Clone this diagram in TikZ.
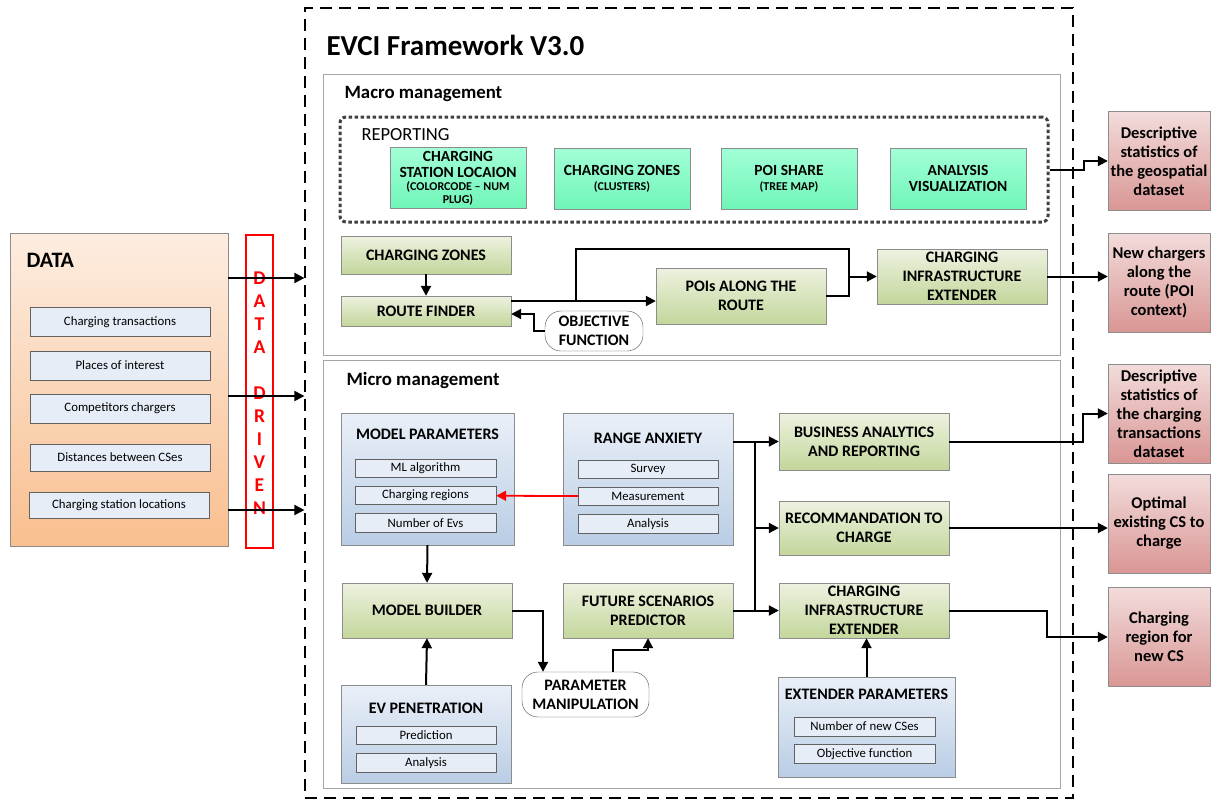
\documentclass[tikz,border=0pt]{standalone}
\usepackage{fontspec}
\setmainfont{Carlito}
\usetikzlibrary{arrows.meta,positioning}

\definecolor{olivetop}{HTML}{EDF2E0}
\definecolor{olivebot}{HTML}{C3D69B}
\definecolor{minttop}{HTML}{A2FFD6}
\definecolor{mintbot}{HTML}{70F5B8}
\definecolor{bluetop}{HTML}{EAF0F8}
\definecolor{bluebot}{HTML}{B9CDE5}
\definecolor{subfill}{HTML}{E6EDF7}
\definecolor{datatop}{HTML}{FDEDE1}
\definecolor{databot}{HTML}{F9BF8F}
\definecolor{outtop}{HTML}{F2DCDB}
\definecolor{outbot}{HTML}{D99694}
\definecolor{edgegray}{HTML}{8C8C8C}
\definecolor{panelgray}{HTML}{A6A6A6}
\definecolor{dotgray}{HTML}{404040}
\definecolor{ddred}{HTML}{FF0000}

\newcommand{\boxfont}{\bfseries\fontsize{16}{19}\selectfont}
\newcommand{\resfont}{\bfseries\fontsize{16.5}{19}\selectfont}
\newcommand{\repfont}{\bfseries\fontsize{15.5}{16}\selectfont}
\newcommand{\notefont}{\bfseries\fontsize{12}{11}\selectfont}
\newcommand{\itemfont}{\fontsize{12.8}{14}\selectfont}
\newcommand{\headfont}{\bfseries\fontsize{18.8}{22}\selectfont}

\begin{document}
\begin{tikzpicture}[x=1pt,y=-1pt,
  arr/.style={line width=2pt,-{Triangle[length=10pt,width=10pt]}},
  link/.style={line width=2pt},
  olive/.style={draw=edgegray,top color=olivetop,bottom color=olivebot,minimum width=170pt,align=center,font=\boxfont,inner sep=0pt},
  mint/.style={draw=edgegray,top color=minttop,bottom color=mintbot,minimum width=136pt,minimum height=61pt,align=center,font=\repfont,inner sep=0pt},
  bluebox/.style={draw=edgegray,top color=bluetop,bottom color=bluebot},
  item/.style={draw=edgegray!70!black,fill=subfill,minimum width=141pt,minimum height=18.5pt,inner sep=0pt,font=\itemfont},
  result/.style={draw=edgegray,top color=outtop,bottom color=outbot,minimum width=102pt,minimum height=99pt,align=center,font=\resfont,inner sep=0pt},
  pill/.style={draw=black!70,fill=white,rounded corners=16pt,align=center,font=\boxfont,inner sep=0pt},
  panel/.style={draw=panelgray,line width=1pt,minimum width=737pt}
]
\useasboundingbox (0,0) rectangle (1215,801);

% framework frame
\node[draw,line width=1.2pt,dash pattern=on 12pt off 7pt,minimum width=768pt,minimum height=790pt] (frame) at (689,403) {};
\node[anchor=west,font=\bfseries\fontsize{29}{32}\selectfont] (title) at (323,45) {EVCI Framework V3.0};

% macro management
\node[panel,minimum height=281pt] (macro) at (691.5,214.5) {};
\node[anchor=west,font=\headfont] (macrolbl) at (341,94) {Macro management};
\node[draw=dotgray,line width=3pt,dash pattern=on 3.5pt off 2.5pt,rounded corners=6pt,minimum width=708pt,minimum height=105pt] (rep) at (694,169.5) {};
\node[anchor=west,font=\fontsize{18.5}{20}\selectfont] (replbl) at (358,135) {REPORTING};
\node[mint] (csloc) at (458,178) {CHARGING\\STATION LOCAION\\[-2.5pt]\notefont (COLORCODE – NUM\\[-3.5pt]\notefont PLUG)};
\node[mint] (czrep) at (622,178.5) {CHARGING ZONES\\[-1pt]\notefont (CLUSTERS)};
\node[mint] (poish) at (789,178.5) {POI SHARE\\[-1pt]\notefont (TREE MAP)};
\node[mint] (anvis) at (958,178.5) {ANALYSIS\\VISUALIZATION};

\node[olive,minimum height=38pt] (czone) at (426,255) {CHARGING ZONES};
\node[olive,minimum height=30pt] (route) at (426,311) {ROUTE FINDER};
\node[pill,minimum width=98pt,minimum height=40pt] (objf) at (594,331) {OBJECTIVE\\FUNCTION};
\node[olive,minimum height=56pt] (poi) at (741,296) {POIs ALONG THE\\ROUTE};
\node[olive,minimum height=55pt] (cie1) at (962,276.5) {CHARGING\\INFRASTRUCTURE\\EXTENDER};

\coordinate (fork) at (576,301);
\coordinate (join) at (849,276.5);
\draw[arr] (czone) -- (route);
\draw[arr] ([yshift=10pt]route.east) -- ([yshift=10pt]route.east -| poi.west);
\draw[link] (fork) -- ++(0,-52) -| (join);
\draw[link] (poi.east) -| (join);
\draw[arr] (join) -- (cie1.west);
\draw[arr] (objf.west) -- ++(-11,0) |- ([yshift=-3pt]route.east);

% data
\node[draw=edgegray,top color=datatop,bottom color=databot,minimum width=218pt,minimum height=313pt] (data) at (119,389.5) {};
\node[anchor=west,font=\bfseries\fontsize{22}{24}\selectfont] (datalbl) at (23,260) {DATA};
\node[item,minimum width=180pt,minimum height=29pt] (trans) at (120,322) {Charging transactions};
\node[item,minimum width=180pt,minimum height=29pt] (places) at (120,365.5) {Places of interest};
\node[item,minimum width=180pt,minimum height=29pt] (compet) at (120,408.5) {Competitors chargers};
\node[item,minimum width=180pt,minimum height=27pt] (dist) at (120,457.5) {Distances between CSes};
\node[item,minimum width=180pt,minimum height=26pt] (csl) at (119,505) {Charging station locations};
\node[draw=ddred,line width=1.2pt,minimum width=27pt,minimum height=313pt] (ddbox) at (259.5,391.5) {};
\node[text=ddred,font=\bfseries\fontsize{19.5}{23}\selectfont,align=center,inner sep=0pt] (ddtxt) at (259.5,393) {D\\A\\T\\A\\[23pt]D\\R\\I\\V\\E\\N};
\foreach \s in {111.5,-6.5,-120.5}
  \draw[arr] ([yshift=\s pt]data.east) -- ([yshift=\s pt]data.east -| frame.west);

% micro management
\node[panel,minimum height=428pt] (micro) at (691.5,574) {};
\node[anchor=west,font=\headfont] (microlbl) at (343,380) {Micro management};

\node[bluebox,minimum width=173pt,minimum height=132pt] (mpar) at (427.5,479) {};
\node[font=\boxfont] (mpartl) at (427.5,434) {MODEL PARAMETERS};
\node[item] (mlalg) at (425.5,468) {ML algorithm};
\node[item,below=8.5pt of mlalg] (creg) {Charging regions};
\node[item,below=8.5pt of creg] (nevs) {Number of Evs};

\node[bluebox,minimum width=170pt,minimum height=132pt] (rax) at (648,479) {};
\node[font=\boxfont] (raxtl) at (648,438) {RANGE ANXIETY};
\node[item,minimum width=140pt] (survey) at (648,469) {Survey};
\node[item,minimum width=140pt,below=8.5pt of survey] (meas) {Measurement};
\node[item,minimum width=140pt,below=8.5pt of meas] (ranal) {Analysis};

\node[olive,minimum height=55pt] (mbuild) at (427,610.5) {MODEL BUILDER};
\node[olive,minimum height=55pt] (fsp) at (648,610.5) {FUTURE SCENARIOS\\PREDICTOR};
\node[bluebox,minimum width=170pt,minimum height=98pt] (evp) at (426,734) {};
\node[font=\boxfont] (evptl) at (426,708) {EV PENETRATION};
\node[item,minimum width=140pt] (pred) at (426,735) {Prediction};
\node[item,minimum width=140pt,below=9pt of pred] (evan) {Analysis};
\node[pill,minimum width=127pt,minimum height=45pt] (pman) at (585.5,694.5) {PARAMETER\\MANIPULATION};

\node[olive,minimum height=57pt] (bar) at (864,441.5) {BUSINESS ANALYTICS\\AND REPORTING};
\node[olive,minimum height=54pt] (rec) at (864,528) {RECOMMANDATION TO\\CHARGE};
\node[olive,minimum height=55pt] (cie2) at (864,610.5) {CHARGING\\INFRASTRUCTURE\\EXTENDER};
\node[bluebox,minimum width=177pt,minimum height=100pt] (epar) at (866.5,727) {};
\node[font=\boxfont] (epartl) at (866.5,694) {EXTENDER PARAMETERS};
\node[item] (newcs) at (864.5,726.5) {Number of new CSes};
\node[item,below=8.5pt of newcs] (objf2) {Objective function};

\draw[arr,ddred,line width=1.8pt] (meas) -- (creg);
\draw[arr] (mpar.south) -- (mbuild.north);
\draw[arr] (evp.north) -- (mbuild.south);
\draw[arr] (mbuild.east) -| ([xshift=-42.5pt]pman.north);
\draw[arr] ([xshift=27.5pt]pman.north) |- ([yshift=-12pt]fsp.south) -- (fsp.south);
\coordinate (bustop) at (755,441.5);
\coordinate (busbot) at (755,610.5);
\draw[arr] (rax.east |- bar.west) -- (bar.west);
\draw[link] (bustop) -- (busbot);
\draw[arr] (bustop |- rec.west) -- (rec.west);
\draw[arr] (fsp.east) -- (cie2.west);
\draw[arr] (epar.north) -- (epar.north |- cie2.south);

% results
\node[result] (out1) at (1159,161) {Descriptive\\statistics of\\the geospatial\\dataset};
\node[result] (out2) at (1159,282.5) {New chargers\\along the\\route (POI\\context)};
\node[result] (out3) at (1159,413.5) {Descriptive\\statistics of\\the charging\\transactions\\dataset};
\node[result] (out4) at (1159,523.5) {Optimal\\existing CS to\\charge};
\node[result] (out5) at (1159,637) {Charging\\region for\\new CS};

\draw[arr] (rep.east) -- ++(34,0) |- (out1.west);
\draw[arr] (cie1.east) -- (cie1.east -| out2.west);
\draw[arr] (bar.east) -- ++(134,0) |- (out3.west);
\draw[arr] (rec.east) -- (rec.east -| out4.west);
\draw[arr] (cie2.east) -- ++(98,0) |- (out5.west);
\end{tikzpicture}
\end{document}
